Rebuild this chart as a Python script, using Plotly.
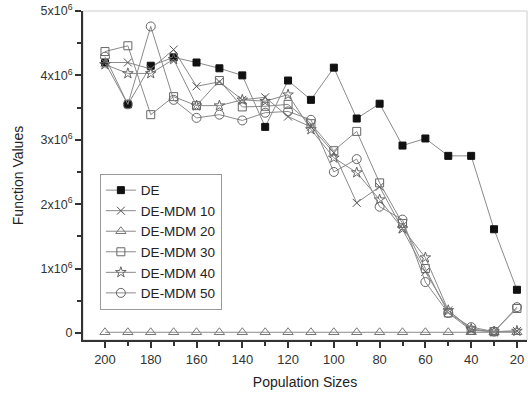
import plotly.graph_objects as go

pop_sizes = [200, 190, 180, 170, 160, 150, 140, 130, 120, 110, 100, 90, 80, 70, 60, 50, 40, 30, 20]

de = [4.20, 3.55, 4.15, 4.28, 4.20, 4.11, 4.00, 3.20, 3.92, 3.62, 4.12, 3.33, 3.56, 2.91, 3.02, 2.75, 2.75, 1.61, 0.67]
mdm10 = [4.20, 4.20, 4.10, 4.40, 3.83, 3.90, 3.62, 3.66, 3.36, 3.20, 2.80, 2.02, 2.27, 1.62, 0.95, 0.35, 0.05, 0.02, 0.03]
mdm20 = [0.01] * 19
mdm30 = [4.37, 4.46, 3.39, 3.67, 3.53, 3.92, 3.51, 3.52, 3.55, 3.25, 2.83, 3.13, 2.33, 1.70, 1.00, 0.31, 0.04, 0.02, 0.38]
mdm40 = [4.17, 4.03, 4.03, 4.25, 3.53, 3.53, 3.62, 3.60, 3.70, 3.16, 2.72, 2.49, 2.07, 1.62, 1.17, 0.35, 0.06, 0.02, 0.03]
mdm50 = [4.29, 3.55, 4.76, 3.62, 3.34, 3.39, 3.30, 3.42, 3.44, 3.31, 2.50, 2.70, 1.96, 1.76, 0.79, 0.31, 0.09, 0.02, 0.40]

series = [
    ("DE", de, "square", "#111111", 7),
    ("DE-MDM 10", mdm10, "x-thin-open", "#555555", 8),
    ("DE-MDM 20", mdm20, "triangle-up-open", "#777777", 9),
    ("DE-MDM 30", mdm30, "square-open", "#666666", 8),
    ("DE-MDM 40", mdm40, "star-open", "#666666", 8),
    ("DE-MDM 50", mdm50, "circle-open", "#666666", 9),
]

y_tickvals = [0, 1e6, 2e6, 3e6, 4e6, 5e6]
y_ticktext = ["0", "1x10<sup>6</sup>", "2x10<sup>6</sup>", "3x10<sup>6</sup>",
              "4x10<sup>6</sup>", "5x10<sup>6</sup>"]
x_tickvals = [200, 180, 160, 140, 120, 100, 80, 60, 40, 20]

fig = go.Figure()
for name, vals, sym, col, size in series:
    fig.add_trace(go.Scatter(
        x=pop_sizes, y=[v * 1e6 for v in vals], name=name,
        mode="lines+markers",
        line=dict(color="#8a8a8a", width=1),
        marker=dict(symbol=sym, size=size, color=col,
                    line=dict(color=col, width=1)),
    ))

fig.update_layout(
    width=528, height=394,
    margin=dict(l=83, r=1, t=11, b=54, autoexpand=False),
    paper_bgcolor="white", plot_bgcolor="white",
    font=dict(family="Liberation Sans, Arial, sans-serif", size=12, color="#333333"),
    showlegend=True,
    legend=dict(x=0.038, y=0.505, xanchor="left", yanchor="top",
                bordercolor="#999999", borderwidth=1, bgcolor="white",
                font=dict(size=13.5, color="#222222"), tracegroupgap=0),
    shapes=[dict(type="rect", xref="paper", yref="paper", x0=0, y0=0, x1=1, y1=1,
                 line=dict(color="#cccccc", width=1), layer="below")],
)
fig.update_xaxes(
    range=[209.6, 15.6], tickmode="array", tickvals=x_tickvals, automargin=False,
    ticks="outside", ticklen=6, tickcolor="#333333", tickwidth=1.5,
    showline=True, linecolor="#333333", linewidth=2, showgrid=False, zeroline=False,
    minor=dict(tickmode="array", tickvals=[190, 170, 150, 130, 110, 90, 70, 50, 30],
               ticks="outside", ticklen=4, tickcolor="#333333", tickwidth=1.5, showgrid=False),
    title=dict(text="Population Sizes", font=dict(size=14, color="#222222"), standoff=12),
    tickfont=dict(size=13, color="#333333"),
)
fig.update_yaxes(
    range=[-0.11e6, 5e6], tickmode="array", tickvals=y_tickvals, ticktext=y_ticktext,
    automargin=False,
    ticks="outside", ticklen=6, tickcolor="#333333", tickwidth=1.5,
    showline=True, linecolor="#333333", linewidth=2, showgrid=False, zeroline=False,
    minor=dict(tickmode="array", tickvals=[0.5e6, 1.5e6, 2.5e6, 3.5e6, 4.5e6],
               ticks="outside", ticklen=4, tickcolor="#333333", tickwidth=1.5, showgrid=False),
    title=dict(text="Function Values", font=dict(size=14, color="#222222"), standoff=14),
    tickfont=dict(size=12.5, color="#333333"),
)

fig.write_html("out.html", config={"displayModeBar": False},
               post_script="document.body.style.margin='0';document.body.style.overflow='hidden';")
